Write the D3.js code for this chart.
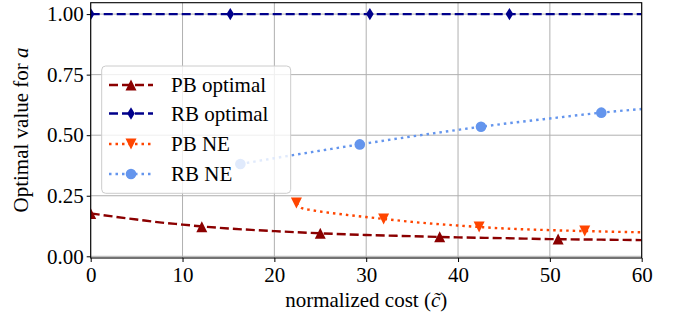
<!DOCTYPE html>
<html><head><meta charset="utf-8">
<script src="https://cdn.jsdelivr.net/npm/d3@7"></script>
<style>
body{margin:0;background:#fff;}
</style></head>
<body><svg id="c" width="675" height="322"></svg>
<script>
// ---- data ----
const xTicks = [0,10,20,30,40,50,60];
const yTicks = [0,0.25,0.5,0.75,1.0];
const yTickLabels = ["0.00","0.25","0.50","0.75","1.00"];
const seriesNames = ["PB optimal","RB optimal","PB NE","RB NE"];

const pbOptX = [0,2.5,5,7.5,10,12.5,15,17.5,20,25,30,35,40,45,50,55,60];
const pbOptY = [0.177,0.164,0.152,0.140,0.131,0.122,0.115,0.109,0.104,0.095,0.088,0.083,0.078,0.075,0.071,0.069,0.067];
const pbOptMarkX = [0,12.1,25.0,38.0,50.9];
const pbOptMarkY = [0.177,0.122,0.095,0.081,0.071];

const rbOptX = [0,60];
const rbOptY = [1.0,1.0];
const rbOptMarkX = [0,15.2,30.4,45.6];
const rbOptMarkY = [1.0,1.0,1.0,1.0];

const pbNeX = [22.4,23.0,24,25,27,30,32,35,40,42.3,45,50,54,60];
const pbNeY = [0.220,0.199,0.191,0.185,0.175,0.162,0.154,0.142,0.127,0.121,0.115,0.108,0.104,0.099];
const pbNeMarkX = [22.4,31.9,42.3,53.8];
const pbNeMarkY = [0.220,0.154,0.121,0.104];

const rbNeX = [16.3,20,25,29.3,35,40,45,50,55.6,60];
const rbNeY = [0.381,0.405,0.436,0.462,0.495,0.522,0.547,0.569,0.593,0.608];
const rbNeMarkX = [16.3,29.3,42.5,55.6];
const rbNeMarkY = [0.381,0.462,0.535,0.593];

// ---- layout ----
const svg = d3.select("#c");
const L=90.7, R=641.7, T=2.7, B=258.0;
const x = d3.scaleLinear().domain([0,60]).range([L,R]);
const y = d3.scaleLinear().domain([-0.007,1.047]).range([B,T]);
const FF = "Liberation Serif";

// grid
const g = svg.append("g");
g.selectAll(".gx").data(xTicks).enter().append("line")
  .attr("x1",d=>x(d)).attr("x2",d=>x(d)).attr("y1",T).attr("y2",B)
  .attr("stroke","#b0b0b0").attr("stroke-width",1);
g.selectAll(".gy").data(yTicks).enter().append("line")
  .attr("y1",d=>y(d)).attr("y2",d=>y(d)).attr("x1",L).attr("x2",R)
  .attr("stroke","#b0b0b0").attr("stroke-width",1);

// series
const zip=(a,b)=>a.map((v,i)=>[v,b[i]]);
const line = d3.line().x(d=>x(d[0])).y(d=>y(d[1])).curve(d3.curveMonotoneX);
const series = [
 {name:seriesNames[0], pts:zip(pbOptX,pbOptY), marks:zip(pbOptMarkX,pbOptMarkY), color:"#8b0000", dash:"9,4", sym:"up"},
 {name:seriesNames[1], pts:zip(rbOptX,rbOptY), marks:zip(rbOptMarkX,rbOptMarkY), color:"#00008b", dash:"9,4", sym:"thin"},
 {name:seriesNames[2], pts:zip(pbNeX,pbNeY), marks:zip(pbNeMarkX,pbNeMarkY), color:"#ff4500", dash:"2.5,4", sym:"down"},
 {name:seriesNames[3], pts:zip(rbNeX,rbNeY), marks:zip(rbNeMarkX,rbNeMarkY), color:"#6495ed", dash:"2.5,4", sym:"circle"}
];
function markerPath(sym){
  const m=11, h=m/2;
  if(sym==="up") return `M0,${-h}L${h},${h}L${-h},${h}Z`;
  if(sym==="down") return `M0,${h}L${h},${-h}L${-h},${-h}Z`;
  if(sym==="thin") return `M0,${-6.2}L3.8,0L0,6.2L-3.8,0Z`;
  return d3.symbol(d3.symbolCircle, Math.PI*5.3*5.3)();
}
svg.append("clipPath").attr("id","pc").append("rect")
  .attr("x",L).attr("y",T).attr("width",R-L).attr("height",B-T);
const plot = svg.append("g").attr("clip-path","url(#pc)");
series.forEach(s=>{
  plot.append("path").attr("d",line(s.pts)).attr("fill","none")
    .attr("stroke",s.color).attr("stroke-width",2.4).attr("stroke-dasharray",s.dash);
});
series.forEach(s=>{
  plot.selectAll(null).data(s.marks).enter().append("path")
    .attr("d",markerPath(s.sym))
    .attr("transform",d=>`translate(${x(d[0])},${y(d[1])})`)
    .attr("fill",s.color);
});

// spines
svg.append("rect").attr("x",L).attr("y",T).attr("width",R-L).attr("height",B-T)
  .attr("fill","none").attr("stroke","#000").attr("stroke-width",1.1);

// axes
const xAxis = d3.axisBottom(x).tickValues(xTicks).tickSize(4).tickPadding(3).tickFormat(d3.format("d"));
const gx = svg.append("g").attr("transform",`translate(0,${B})`).call(xAxis);
const yAxis = d3.axisLeft(y).tickValues(yTicks).tickSize(4).tickPadding(3).tickFormat((d,i)=>yTickLabels[i]);
const gy = svg.append("g").attr("transform",`translate(${L},0)`).call(yAxis);
[gx,gy].forEach(a=>{
  a.attr("font-family",FF).attr("font-size",21);
  a.select(".domain").remove();
  a.selectAll(".tick line").attr("stroke","#000").attr("stroke-width",1);
  a.selectAll(".tick text").attr("font-family",FF).attr("font-size",21).attr("fill","#000");
});
gx.selectAll(".tick text").attr("dy","0.8em");

// labels
svg.append("text").attr("x",(L+R)/2).attr("y",307).attr("text-anchor","middle")
  .attr("font-family",FF).attr("font-size",21)
  .html('normalized cost (<tspan font-style="italic">c̃</tspan>)');
svg.append("text").attr("transform","translate(28,130) rotate(-90)").attr("text-anchor","middle")
  .attr("font-family",FF).attr("font-size",21)
  .html('Optimal value for <tspan font-style="italic">a</tspan>');

// legend
const lg = svg.append("g");
lg.append("rect").attr("x",101.7).attr("y",66).attr("width",189).attr("height",127.3)
  .attr("rx",4).attr("fill","rgba(255,255,255,0.8)").attr("stroke","#cccccc").attr("stroke-width",1);
const ly=[85,113.5,144,174];
series.forEach((s,i)=>{
  lg.append("line").attr("x1",109).attr("x2",153).attr("y1",ly[i]).attr("y2",ly[i])
    .attr("stroke",s.color).attr("stroke-width",2.4).attr("stroke-dasharray",s.dash);
  lg.append("path").attr("d",markerPath(s.sym)).attr("transform",`translate(131,${ly[i]})`).attr("fill",s.color);
  lg.append("text").attr("x",171).attr("y",ly[i]+7).attr("font-family",FF).attr("font-size",21).text(s.name);
});
</script></body></html>
